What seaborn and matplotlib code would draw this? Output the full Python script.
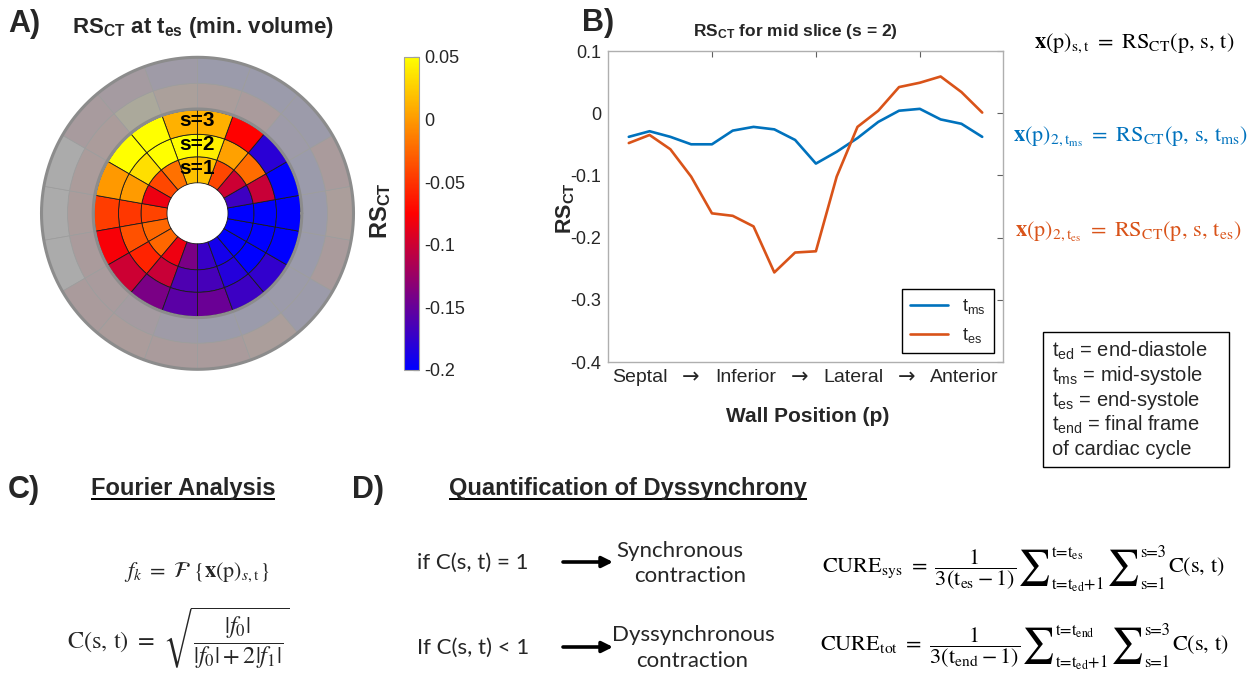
import numpy as np
import pandas as pd
import matplotlib
matplotlib.use("Agg")
import matplotlib.pyplot as plt
from matplotlib.colors import LinearSegmentedColormap, Normalize
from matplotlib.cm import ScalarMappable
from matplotlib.lines import Line2D
from matplotlib.patches import Rectangle
import seaborn as sns

# ---------------- data ----------------
# wall positions p = 1..18 along the mid slice (Septal -> Inferior -> Lateral -> Anterior)
wall_pos = list(range(1, 19))
rs_t_ms = [-0.038, -0.029, -0.038, -0.050, -0.050, -0.028, -0.022, -0.026, -0.043,
           -0.081, -0.062, -0.040, -0.014, 0.004, 0.007, -0.010, -0.017, -0.038]
rs_t_es = [-0.048, -0.035, -0.058, -0.102, -0.161, -0.165, -0.182, -0.256, -0.224,
           -0.222, -0.102, -0.022, 0.004, 0.042, 0.049, 0.059, 0.034, 0.001]
# RS_CT at t_es for the apical (s=1) and basal (s=3) slices, same wall positions
rs_es_s1 = [-0.042, -0.025, -0.025, -0.083, -0.140, -0.172, -0.190, -0.205, -0.210,
            -0.210, -0.169, -0.100, -0.040, 0.019, 0.019, -0.020, -0.040, -0.083]
rs_es_s3 = [-0.045, -0.078, -0.100, -0.140, -0.156, -0.148, -0.170, -0.175, -0.210,
            -0.210, -0.210, -0.179, -0.075, 0.011, 0.011, 0.050, 0.050, 0.000]
# slices outside the analysed range (greyed out); nan = no data
rs_es_s4 = [-0.070, -0.080, -0.090, -0.120, -0.170, -0.200, -0.200, -0.190, -0.200,
            -0.200, -0.200, -0.180, -0.080, -0.060, -0.040, 0.030, -0.070, -0.070]
rs_es_s5 = [np.nan, np.nan, -0.080, -0.070, -0.080, -0.080, -0.050, -0.190, -0.080,
            -0.050, -0.080, -0.190, -0.200, -0.200, -0.170, -0.120, -0.100, np.nan]

cbar_ticks = [0.05, 0.0, -0.05, -0.1, -0.15, -0.2]
cbar_ticklabels = ["0.05", "0", "-0.05", "-0.1", "-0.15", "-0.2"]
y_ticks = [0.1, 0.0, -0.1, -0.2, -0.3, -0.4]
y_ticklabels = ["0.1", "0", "-0.1", "-0.2", "-0.3", "-0.4"]
x_ticks = [5, 10, 15]
wall_labels = ["Septal", "\u2192", "Inferior", "\u2192", "Lateral", "\u2192", "Anterior"]
series_names = ["ms", "es"]
series_colors = {"ms": "#0072BD", "es": "#D95319"}

# ---------------- style ----------------
sns.set_theme(style="white")
plt.rcParams.update({
    "font.family": ["Liberation Sans", "DejaVu Sans"],
    "mathtext.fontset": "custom",
    "mathtext.rm": "Liberation Sans",
    "mathtext.it": "Liberation Sans:italic",
    "mathtext.bf": "Liberation Sans:bold",
    "mathtext.sf": "Liberation Sans",
    "axes.unicode_minus": False,
})

W, H = 1257, 679
fig = plt.figure(figsize=(W / 100, H / 100), dpi=100)
fig.patch.set_facecolor("white")


def box(left, top, right, bottom):
    return [left / W, 1 - bottom / H, (right - left) / W, (bottom - top) / H]


# ---------------- A) bullseye ----------------
cmap = LinearSegmentedColormap.from_list("rs_ct", ["#0000FF", "#FF0000", "#FFFF00"])
cmap.set_bad("white")
norm = Normalize(-0.2, 0.05)

cx, cy, half = 197.5, 213.3, 159.0
axA = fig.add_axes(box(cx - half, cy - half, cx + half, cy + half), projection="polar")
axA.set_theta_zero_location("E")
theta = np.deg2rad(180 + 20 * (np.array(wall_pos) - 1))
seg_w = np.deg2rad(20)
radii = [30.5, 56.5, 79.0, 103.5, 130.0, 156.0]
rings = [rs_es_s1, rs_t_es, rs_es_s3, rs_es_s4, rs_es_s5]
for k, vals in enumerate(rings):
    v = np.ma.masked_invalid(np.array(vals, dtype=float))
    axA.bar(theta, radii[k + 1] - radii[k], width=seg_w, bottom=radii[k],
            color=cmap(norm(v)), edgecolor="#1a1a1a", linewidth=0.6, zorder=2)

tt = np.linspace(0, 2 * np.pi, 721)
axA.fill_between(tt, radii[3], radii[5], color="#A6A6A6", alpha=0.94, lw=0, zorder=3)
for r in (radii[3] + 0.8, radii[5]):
    axA.plot(tt, np.full_like(tt, r), color="#8C8C8C", lw=2.2, zorder=4)
for k, lab in enumerate(["s=1", "s=2", "s=3"]):
    axA.text(np.pi / 2, (radii[k] + radii[k + 1]) / 2 + 1.5, lab, ha="center", va="center",
             fontsize=15, fontweight="bold", color="black", zorder=5)
axA.set_ylim(0, half)
axA.axis("off")

cax = fig.add_axes(box(404, 57, 419, 370))
cb = fig.colorbar(ScalarMappable(norm=norm, cmap=cmap), cax=cax)
cb.set_ticks(cbar_ticks, labels=cbar_ticklabels)
cb.outline.set_edgecolor("#A0A0A0")
cb.outline.set_linewidth(0.8)
cax.tick_params(direction="in", length=4, width=0.8, color="#404040",
                labelsize=13, labelcolor="#262626", pad=4)

# ---------------- B) line plot ----------------
axB = fig.add_axes(box(608, 51, 1003, 362))
df = pd.DataFrame({
    "p": wall_pos * 2,
    "RS": rs_t_ms + rs_t_es,
    "t": [series_names[0]] * len(wall_pos) + [series_names[1]] * len(wall_pos),
})
sns.lineplot(data=df, x="p", y="RS", hue="t", palette=series_colors, lw=1.9,
             ax=axB, legend=False)
axB.set_xlim(0, 19)
axB.set_ylim(-0.4, 0.1)
axB.set_xticks(x_ticks)
axB.set_xticklabels([""] * len(x_ticks))
axB.set_yticks(y_ticks)
axB.set_yticklabels(y_ticklabels)
axB.set_xlabel("")
axB.set_ylabel("")
for s in axB.spines.values():
    s.set_color("#AFAFAF")
    s.set_linewidth(1.0)
axB.tick_params(direction="in", length=4, width=0.8, color="#606060", top=True, right=True,
                labelsize=13, labelcolor="#262626", pad=5)
handles = [Line2D([], [], color=series_colors[n], lw=1.9) for n in series_names]
leg = axB.legend(handles, [r"$\mathrm{t_{ms}}$", r"$\mathrm{t_{es}}$"], loc="lower right",
                 bbox_to_anchor=(0.977, 0.029), frameon=True, fancybox=False,
                 edgecolor="black", framealpha=1, fontsize=13, handlelength=2.1,
                 handletextpad=0.8, labelspacing=0.55, borderpad=0.45, borderaxespad=0)
leg.get_frame().set_linewidth(1.0)

# ---------------- free text layer (pixel coordinates) ----------------
ov = fig.add_axes([0, 0, 1, 1])
ov.set_xlim(0, W)
ov.set_ylim(H, 0)
ov.axis("off")

for lab, x, y in [("A)", 8, 32), ("B)", 582, 31), ("C)", 8, 498), ("D)", 352, 498)]:
    ov.text(x, y, lab, fontsize=22, fontweight="bold", ha="left", va="baseline")

ov.text(203, 33, r"$\mathbf{RS}_{\mathbf{CT}}$ at $\mathbf{t}_{\mathbf{es}}$ (min. volume)",
        fontsize=16, fontweight="bold", ha="center", va="baseline")
ov.text(381, 211, r"$\mathbf{RS}_{\mathbf{CT}}$", fontsize=17, rotation=90,
        ha="center", va="center")

ov.text(795, 36, r"$\mathbf{RS}_{\mathbf{CT}}$ for mid slice (s = 2)", fontsize=12.5,
        fontweight="bold", ha="center", va="baseline")
ov.text(566, 208, r"$\mathbf{RS}_{\mathbf{CT}}$", fontsize=15.5, rotation=90,
        ha="center", va="center")
ov.text(808, 422, "Wall Position (p)", fontsize=15, fontweight="bold",
        ha="center", va="baseline")
for lab, x in zip(wall_labels, [640, 691, 746, 800, 853, 907, 964]):
    if lab == "\u2192":
        ov.text(x, 377, lab, fontsize=15, ha="center", va="center", color="#262626",
                family=["DejaVu Sans"])
    else:
        ov.text(x, 378, lab, fontsize=14, ha="center", va="center", color="#262626")

# data model formulas
serif = dict(math_fontfamily="stix", fontsize=16, va="baseline", ha="center")
ov.text(1134, 48, r"$\mathbf{x}(\mathrm{p})_{\mathrm{s,t}}\ =\ \mathrm{RS}_{\mathrm{CT}}(\mathrm{p,\,s,\,t})$",
        color="black", **serif)
ov.text(1131, 141, r"$\mathbf{x}(\mathrm{p})_{2,\mathrm{t_{ms}}}\ =\ \mathrm{RS}_{\mathrm{CT}}(\mathrm{p,\,s,\,t_{ms}})$",
        color=series_colors["ms"], **serif)
ov.text(1128, 236, r"$\mathbf{x}(\mathrm{p})_{2,\mathrm{t_{es}}}\ =\ \mathrm{RS}_{\mathrm{CT}}(\mathrm{p,\,s,\,t_{es}})$",
        color=series_colors["es"], **serif)

# time point definitions
ov.add_patch(Rectangle((1043, 332), 186, 135, fill=False, edgecolor="black", lw=1.0))
defs = [r"$\mathrm{t_{ed}}$ = end-diastole", r"$\mathrm{t_{ms}}$ = mid-systole",
        r"$\mathrm{t_{es}}$ = end-systole", r"$\mathrm{t_{end}}$ = final frame",
        "of cardiac cycle"]
for i, d in enumerate(defs):
    ov.text(1052, 357 + 24.4 * i, d, fontsize=14.5, ha="left", va="baseline")

# C) Fourier analysis
tC = ov.text(183, 495, "Fourier Analysis", fontsize=17, fontweight="bold",
             ha="center", va="baseline")
ov.text(197, 577, r"$f_k\ =\ \mathcal{F}\ \{\mathbf{x}(\mathrm{p})_{s,\mathrm{t}}\}$", **serif)
ov.text(178, 648, r"$\mathrm{C}(\mathrm{s,\,t})\ =\ \sqrt{\dfrac{|f_0|}{|f_0|+2|f_1|}}$",
        math_fontfamily="stix", fontsize=17.5, va="baseline", ha="center")

# D) quantification of dyssynchrony
tD = ov.text(628, 495, "Quantification of Dyssynchrony", fontsize=17, fontweight="bold",
             ha="center", va="baseline")
calib = dict(family="Lato", fontsize=16, va="baseline")
ov.text(417, 569, "if C(s, t) = 1", ha="left", **calib)
ov.text(417, 654, "If C(s, t) < 1", ha="left", **calib)
ov.text(680, 557, "Synchronous", ha="center", **calib)
ov.text(690, 582, "contraction", ha="center", **calib)
ov.text(693, 641, "Dyssynchronous", ha="center", **calib)
ov.text(692, 667, "contraction", ha="center", **calib)
for y in (562, 647):
    ov.annotate("", xy=(613, y), xytext=(563, y),
                arrowprops=dict(arrowstyle="-|>", lw=2.6, color="black",
                                mutation_scale=16, shrinkA=0, shrinkB=0))

# CURE scores: pieces laid out left to right, with large summation signs
fig.canvas.draw()
rend = fig.canvas.get_renderer()


def right_edge(t):
    return t.get_window_extent(rend).x1


def cure_row(x, yb, name, t_top):
    m = dict(math_fontfamily="stix", ha="left", color="black")
    lim = dict(family="STIXGeneral", math_fontfamily="stix", ha="left", color="black",
               fontsize=12, va="center")
    t = ov.text(x, yb, r"$\mathrm{CURE_{%s}}\ =\ \dfrac{1}{3(\mathrm{t_{%s}}-1)}$" % (name, t_top),
                fontsize=16, va="baseline", **m)
    x = right_edge(t) + 1
    for top, bot in ((r"t=$\mathrm{t_{%s}}$" % t_top, r"t=$\mathrm{t_{ed}}$+1"), ("s=3", "s=1")):
        sig = ov.text(x, yb - 4, r"$\sum$", fontsize=26, va="center", **m)
        x = right_edge(sig) + 1
        a = ov.text(x, yb - 19, top, **lim)
        b = ov.text(x, yb + 13, bot, **lim)
        x = max(right_edge(a), right_edge(b)) + 2
    ov.text(x, yb, r"$\mathrm{C(s,\,t)}$", fontsize=16, va="baseline", **m)


cure_row(822, 572, "sys", "es")
cure_row(820, 650, "tot", "end")

# underline the section headings
for t in (tC, tD):
    bb = t.get_window_extent(rend)
    ov.plot([bb.x0, bb.x1], [499, 499], color="black", lw=1.4, solid_capstyle="butt")

fig.savefig("out.png", dpi=100)
